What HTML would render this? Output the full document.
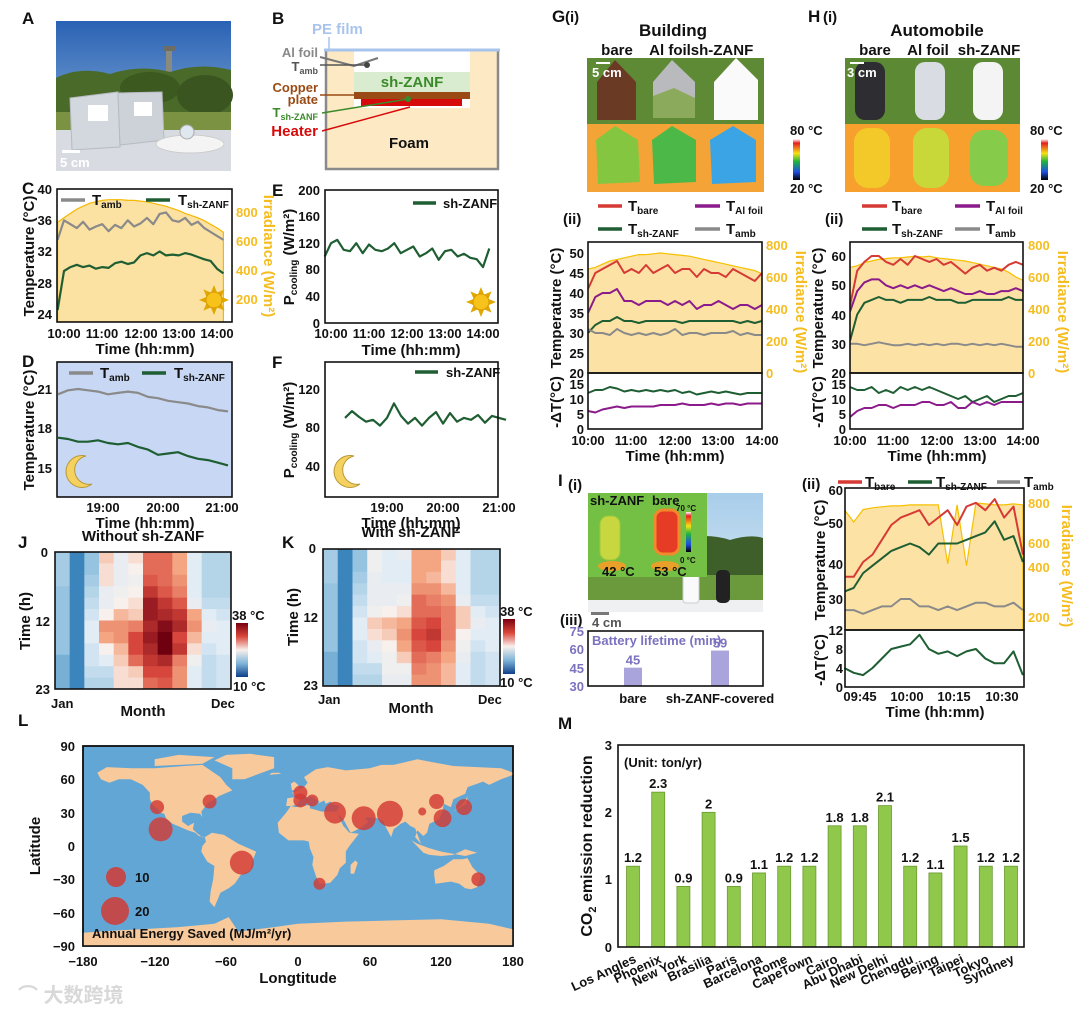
<!DOCTYPE html>
<html><head><meta charset="utf-8"><style>
html,body{margin:0;padding:0;background:#fff;width:1080px;height:1014px;overflow:hidden}
svg text{font-family:"Liberation Sans","Noto Sans CJK SC",sans-serif;font-weight:bold;fill:#111}
.tk{font-size:13px}
.tt{font-size:15px}
.lb{font-size:17px}
.or{fill:#f5bd1f}
.pu{fill:#7b72c0}
</style></head><body>
<svg id="fig" width="1080" height="1014" viewBox="0 0 1080 1014" xmlns="http://www.w3.org/2000/svg">
<defs>
<linearGradient id="sky" x1="0" y1="0" x2="0" y2="1"><stop offset="0" stop-color="#2a62b4"/><stop offset="1" stop-color="#9cc0e0"/></linearGradient>
<linearGradient id="cbar" x1="0" y1="0" x2="0" y2="1"><stop offset="0" stop-color="#fff"/><stop offset="0.1" stop-color="#e81e1e"/><stop offset="0.35" stop-color="#f5e214"/><stop offset="0.55" stop-color="#1eb43c"/><stop offset="0.8" stop-color="#1e50e6"/><stop offset="1" stop-color="#000"/></linearGradient>
<linearGradient id="hbar" x1="0" y1="0" x2="0" y2="1"><stop offset="0" stop-color="#7a0010"/><stop offset="0.25" stop-color="#d9473a"/><stop offset="0.5" stop-color="#f8f0ec"/><stop offset="0.75" stop-color="#7fb4d9"/><stop offset="1" stop-color="#0d3f8a"/></linearGradient>
<linearGradient id="isky" x1="0" y1="0" x2="0" y2="1"><stop offset="0" stop-color="#a8cdea"/><stop offset="1" stop-color="#d9e9f3"/></linearGradient>
</defs>

<g>
<text x="22" y="24" class="lb">A</text><text x="272" y="24" class="lb">B</text>
<text x="22" y="194" class="lb">C</text><text x="272" y="196" class="lb">E</text>
<text x="22" y="367" class="lb">D</text><text x="272" y="368" class="lb">F</text>
<text x="18" y="548" class="lb">J</text><text x="282" y="548" class="lb">K</text>
<text x="18" y="726" class="lb">L</text><text x="558" y="729" class="lb">M</text>
<text x="552" y="22" class="lb">G</text><text x="565" y="22" class="tt">(i)</text>
<text x="808" y="22" class="lb">H</text><text x="823" y="22" class="tt">(i)</text>
<text x="558" y="486" class="lb">I</text><text x="568" y="490" class="tt">(i)</text>
</g>

<g>
<rect x="56" y="21" width="175" height="150" fill="url(#sky)"/>
<rect x="166" y="48" width="6" height="26" fill="#8a8a80"/><rect x="163" y="46" width="12" height="5" fill="#6d6d66"/>
<path d="M56 78 Q80 66 110 74 Q140 64 170 72 Q200 62 231 70 L231 120 L56 120Z" fill="#4a6a2a"/>
<ellipse cx="150" cy="88" rx="30" ry="16" fill="#3c5a20"/><ellipse cx="205" cy="95" rx="28" ry="20" fill="#3a5520"/>
<rect x="56" y="112" width="175" height="20" fill="#7a9242"/>
<rect x="56" y="130" width="175" height="41" fill="#d8dce2"/>
<polygon points="70,98 118,92 120,147 72,150" fill="#d3d7de" stroke="#b6bac2"/>
<rect x="88" y="105" width="20" height="16" fill="#fff"/>
<polygon points="118,93 162,92 164,140 120,145" fill="#cdd1d8" stroke="#b6bac2"/>
<rect x="134" y="102" width="18" height="14" fill="#fff"/>
<ellipse cx="190" cy="144" rx="34" ry="9" fill="#f4f4f4" stroke="#ccc"/>
<circle cx="187" cy="132" r="7" fill="#dfe7ef" stroke="#aaa"/>
<rect x="62" y="150" width="18" height="3" fill="#fff"/>
<text x="60" y="167" class="tk" style="fill:#fff">5 cm</text>
</g>

<g>
<rect x="326" y="50" width="172" height="119" fill="#fde9c4" stroke="#8a8a8a" stroke-width="2.5"/>
<rect x="354" y="51" width="116" height="57" fill="#fff"/>
<rect x="354" y="72" width="116" height="20" fill="#d9ecd0"/>
<rect x="354" y="92" width="116" height="7" fill="#9a4a14"/>
<rect x="361" y="99" width="101" height="7" fill="#d60a0a"/>
<line x1="324" y1="50" x2="500" y2="50" stroke="#a9c4ec" stroke-width="3"/>
<line x1="329" y1="37" x2="329" y2="50" stroke="#a9c4ec" stroke-width="1.5"/>
<polyline points="320,57 354,66 378,58" fill="none" stroke="#777" stroke-width="2"/>
<line x1="320" y1="65" x2="367" y2="65" stroke="#555" stroke-width="1.5"/><circle cx="367" cy="65" r="3" fill="#444"/>
<line x1="320" y1="95" x2="354" y2="95" stroke="#9a4a14" stroke-width="1.5"/>
<line x1="322" y1="113" x2="408" y2="99" stroke="#3a8a2a" stroke-width="1.5"/><circle cx="408" cy="99" r="3" fill="#3a8a2a"/>
<line x1="322" y1="131" x2="410" y2="107" stroke="#d60a0a" stroke-width="1.5"/>
<text x="312" y="34" class="tt" style="fill:#a9c4ec">PE film</text>
<text x="318" y="57" class="tk" text-anchor="end" style="fill:#888">Al foil</text>
<text x="318" y="71" class="tk" text-anchor="end" style="fill:#555">T<tspan font-size="9" dy="3">amb</tspan></text>
<text x="318" y="92" class="tk" text-anchor="end" style="fill:#9a4a14">Copper</text>
<text x="318" y="104" class="tk" text-anchor="end" style="fill:#9a4a14">plate</text>
<text x="318" y="117" class="tk" text-anchor="end" style="fill:#3a8a2a">T<tspan font-size="9" dy="3">sh-ZANF</tspan></text>
<text x="318" y="136" class="tt" text-anchor="end" style="fill:#d60a0a">Heater</text>
<text x="412" y="87" class="tt" text-anchor="middle" style="fill:#3a8a2a">sh-ZANF</text>
<text x="409" y="148" class="tt" text-anchor="middle">Foam</text>
</g>

<g>
<text x="52" y="194" class="tk" text-anchor="end">40</text><text x="52" y="225" class="tk" text-anchor="end">36</text>
<text x="52" y="256" class="tk" text-anchor="end">32</text><text x="52" y="288" class="tk" text-anchor="end">28</text>
<text x="52" y="319" class="tk" text-anchor="end">24</text>
<text x="236" y="217" class="tk or">800</text><text x="236" y="246" class="tk or">600</text>
<text x="236" y="275" class="tk or">400</text><text x="236" y="304" class="tk or">200</text>
<text transform="translate(34,256) rotate(-90)" class="tt" text-anchor="middle">Temperature (°C)</text>
<text transform="translate(264,256) rotate(90)" class="tt or" text-anchor="middle">Irradiance (W/m²)</text>
<text x="64" y="338" class="tk" text-anchor="middle">10:00</text><text x="102" y="338" class="tk" text-anchor="middle">11:00</text>
<text x="141" y="338" class="tk" text-anchor="middle">12:00</text><text x="179" y="338" class="tk" text-anchor="middle">13:00</text>
<text x="217" y="338" class="tk" text-anchor="middle">14:00</text>
<text x="145" y="354" class="tt" text-anchor="middle">Time (hh:mm)</text>
</g>
<g id="gC"></g>
<g>
<line x1="61" y1="200" x2="85" y2="200" stroke="#8a8a8a" stroke-width="3.5"/><text x="92" y="205" class="tt">T<tspan font-size="10" dy="3">amb</tspan></text>
<line x1="146" y1="200" x2="170" y2="200" stroke="#1e5e32" stroke-width="3.5"/><text x="178" y="205" class="tt">T<tspan font-size="10" dy="3">sh-ZANF</tspan></text>
</g>

<g>
<text x="320" y="195" class="tk" text-anchor="end">200</text><text x="320" y="221" class="tk" text-anchor="end">160</text>
<text x="320" y="248" class="tk" text-anchor="end">120</text><text x="320" y="274" class="tk" text-anchor="end">80</text>
<text x="320" y="301" class="tk" text-anchor="end">40</text><text x="320" y="328" class="tk" text-anchor="end">0</text>
<text transform="translate(294,257) rotate(-90)" class="tt" text-anchor="middle">P<tspan font-size="10" dy="3">cooling</tspan><tspan dy="-3"> (W/m²)</tspan></text>
<text x="331" y="338" class="tk" text-anchor="middle">10:00</text><text x="369" y="338" class="tk" text-anchor="middle">11:00</text>
<text x="407" y="338" class="tk" text-anchor="middle">12:00</text><text x="445" y="338" class="tk" text-anchor="middle">13:00</text>
<text x="483" y="338" class="tk" text-anchor="middle">14:00</text>
<text x="411" y="355" class="tt" text-anchor="middle">Time (hh:mm)</text>
<line x1="413" y1="203" x2="436" y2="203" stroke="#1e5e32" stroke-width="3.5"/><text x="443" y="208" class="tk">sh-ZANF</text>
</g>
<g id="gE"></g>

<g id="gD"></g>
<g>
<text x="52" y="394" class="tk" text-anchor="end">21</text><text x="52" y="433" class="tk" text-anchor="end">18</text>
<text x="52" y="473" class="tk" text-anchor="end">15</text>
<text transform="translate(34,430) rotate(-90)" class="tt" text-anchor="middle">Temperature (°C)</text>
<text x="103" y="512" class="tk" text-anchor="middle">19:00</text><text x="163" y="512" class="tk" text-anchor="middle">20:00</text>
<text x="222" y="512" class="tk" text-anchor="middle">21:00</text>
<text x="145" y="528" class="tt" text-anchor="middle">Time (hh:mm)</text>
<line x1="69" y1="373" x2="93" y2="373" stroke="#8a8a8a" stroke-width="3.5"/><text x="100" y="378" class="tt">T<tspan font-size="10" dy="3">amb</tspan></text>
<line x1="142" y1="373" x2="166" y2="373" stroke="#1e5e32" stroke-width="3.5"/><text x="174" y="378" class="tt">T<tspan font-size="10" dy="3">sh-ZANF</tspan></text>
</g>

<g id="gF"></g>
<g>
<text x="320" y="394" class="tk" text-anchor="end">120</text><text x="320" y="432" class="tk" text-anchor="end">80</text>
<text x="320" y="471" class="tk" text-anchor="end">40</text>
<text transform="translate(294,430) rotate(-90)" class="tt" text-anchor="middle">P<tspan font-size="10" dy="3">cooling</tspan><tspan dy="-3"> (W/m²)</tspan></text>
<text x="387" y="512" class="tk" text-anchor="middle">19:00</text><text x="443" y="512" class="tk" text-anchor="middle">20:00</text>
<text x="499" y="512" class="tk" text-anchor="middle">21:00</text>
<text x="411" y="528" class="tt" text-anchor="middle">Time (hh:mm)</text>
<line x1="415" y1="372" x2="438" y2="372" stroke="#1e5e32" stroke-width="3.5"/><text x="446" y="377" class="tk">sh-ZANF</text>
</g>

<g>
<text x="673" y="36" class="lb" text-anchor="middle">Building</text>
<text x="617" y="55" class="tt" text-anchor="middle">bare</text><text x="670" y="55" class="tt" text-anchor="middle">Al foil</text><text x="722" y="55" class="tt" text-anchor="middle">sh-ZANF</text>
<rect x="587" y="58" width="177" height="66" fill="#5e8a36"/>
<polygon points="597,82 615,60 636,82 636,120 597,120" fill="#6a3a24"/>
<polygon points="653,82 672,60 695,82 695,118 653,118" fill="#b8babe"/><polygon points="653,96 674,88 695,98 695,118 653,118" fill="#8caa5c"/>
<polygon points="714,82 736,58 758,80 758,120 714,120" fill="#fafafa"/>
<rect x="596" y="62" width="14" height="2" fill="#fff"/><text x="592" y="77" class="tk" style="fill:#fff">5 cm</text>
<rect x="587" y="124" width="177" height="68" fill="#f4a436"/>
<polygon points="596,140 615,126 638,140 640,182 598,184" fill="#84c640"/>
<polygon points="652,140 672,126 696,140 696,182 654,184" fill="#4cb848"/>
<polygon points="710,140 733,126 756,140 756,182 712,184" fill="#3aa4e4"/>
<rect x="793" y="139" width="7" height="41" fill="url(#cbar)"/>
<text x="790" y="135" class="tk">80 °C</text><text x="790" y="193" class="tk">20 °C</text>
</g>

<g>
<text x="937" y="36" class="lb" text-anchor="middle">Automobile</text>
<text x="875" y="55" class="tt" text-anchor="middle">bare</text><text x="928" y="55" class="tt" text-anchor="middle">Al foil</text><text x="989" y="55" class="tt" text-anchor="middle">sh-ZANF</text>
<rect x="845" y="58" width="175" height="66" fill="#5c8a34"/>
<rect x="855" y="62" width="30" height="58" rx="10" fill="#2e2e32"/>
<rect x="915" y="62" width="30" height="58" rx="10" fill="#d9dce2"/>
<rect x="973" y="62" width="30" height="58" rx="10" fill="#f4f4f4"/>
<rect x="850" y="62" width="14" height="2" fill="#fff"/><text x="847" y="77" class="tk" style="fill:#fff">3 cm</text>
<rect x="845" y="124" width="175" height="68" fill="#f7a02e"/>
<rect x="854" y="128" width="36" height="60" rx="14" fill="#f2c928"/>
<rect x="913" y="128" width="36" height="60" rx="14" fill="#c8d838"/>
<rect x="970" y="130" width="38" height="56" rx="14" fill="#86cc4a"/>
<rect x="1041" y="139" width="7" height="41" fill="url(#cbar)"/>
<text x="1030" y="135" class="tk">80 °C</text><text x="1030" y="193" class="tk">20 °C</text>
</g>

<g>
<text x="563" y="224" class="tt">(ii)</text>
<line x1="598" y1="206" x2="622" y2="206" stroke="#d63a34" stroke-width="3.5"/><text x="628" y="211" class="tt">T<tspan font-size="10" dy="3">bare</tspan></text>
<line x1="695" y1="206" x2="720" y2="206" stroke="#8b1a8b" stroke-width="3.5"/><text x="726" y="211" class="tt">T<tspan font-size="10" dy="3">Al foil</tspan></text>
<line x1="598" y1="229" x2="622" y2="229" stroke="#1e5e32" stroke-width="3.5"/><text x="628" y="234" class="tt">T<tspan font-size="10" dy="3">sh-ZANF</tspan></text>
<line x1="695" y1="229" x2="720" y2="229" stroke="#8a8a8a" stroke-width="3.5"/><text x="726" y="234" class="tt">T<tspan font-size="10" dy="3">amb</tspan></text>
<text x="584" y="258" class="tk" text-anchor="end">50</text><text x="584" y="278" class="tk" text-anchor="end">45</text>
<text x="584" y="298" class="tk" text-anchor="end">40</text><text x="584" y="318" class="tk" text-anchor="end">35</text>
<text x="584" y="338" class="tk" text-anchor="end">30</text><text x="584" y="358" class="tk" text-anchor="end">25</text>
<text x="584" y="378" class="tk" text-anchor="end">20</text>
<text x="584" y="389" class="tk" text-anchor="end">15</text><text x="584" y="404" class="tk" text-anchor="end">10</text>
<text x="584" y="419" class="tk" text-anchor="end">5</text><text x="584" y="434" class="tk" text-anchor="end">0</text>
<text x="766" y="250" class="tk or">800</text><text x="766" y="282" class="tk or">600</text>
<text x="766" y="314" class="tk or">400</text><text x="766" y="346" class="tk or">200</text><text x="766" y="378" class="tk or">0</text>
<text transform="translate(561,308) rotate(-90)" class="tt" text-anchor="middle">Temperature (°C)</text>
<text transform="translate(561,402) rotate(-90)" class="tt" text-anchor="middle">-ΔT(°C)</text>
<text transform="translate(796,312) rotate(90)" class="tt or" text-anchor="middle">Irradiance (W/m²)</text>
<text x="588" y="445" class="tk" text-anchor="middle">10:00</text><text x="631" y="445" class="tk" text-anchor="middle">11:00</text>
<text x="675" y="445" class="tk" text-anchor="middle">12:00</text><text x="718" y="445" class="tk" text-anchor="middle">13:00</text>
<text x="762" y="445" class="tk" text-anchor="middle">14:00</text>
<text x="675" y="461" class="tt" text-anchor="middle">Time (hh:mm)</text>
</g>
<g id="gG"></g>

<g>
<text x="825" y="224" class="tt">(ii)</text>
<line x1="862" y1="206" x2="887" y2="206" stroke="#d63a34" stroke-width="3.5"/><text x="892" y="211" class="tt">T<tspan font-size="10" dy="3">bare</tspan></text>
<line x1="955" y1="206" x2="980" y2="206" stroke="#8b1a8b" stroke-width="3.5"/><text x="986" y="211" class="tt">T<tspan font-size="10" dy="3">Al foil</tspan></text>
<line x1="862" y1="229" x2="887" y2="229" stroke="#1e5e32" stroke-width="3.5"/><text x="892" y="234" class="tt">T<tspan font-size="10" dy="3">sh-ZANF</tspan></text>
<line x1="955" y1="229" x2="980" y2="229" stroke="#8a8a8a" stroke-width="3.5"/><text x="986" y="234" class="tt">T<tspan font-size="10" dy="3">amb</tspan></text>
<text x="846" y="261" class="tk" text-anchor="end">60</text><text x="846" y="290" class="tk" text-anchor="end">50</text>
<text x="846" y="320" class="tk" text-anchor="end">40</text><text x="846" y="349" class="tk" text-anchor="end">30</text>
<text x="846" y="378" class="tk" text-anchor="end">20</text>
<text x="846" y="389" class="tk" text-anchor="end">15</text><text x="846" y="404" class="tk" text-anchor="end">10</text>
<text x="846" y="419" class="tk" text-anchor="end">5</text><text x="846" y="434" class="tk" text-anchor="end">0</text>
<text x="1028" y="250" class="tk or">800</text><text x="1028" y="282" class="tk or">600</text>
<text x="1028" y="314" class="tk or">400</text><text x="1028" y="346" class="tk or">200</text><text x="1028" y="378" class="tk or">0</text>
<text transform="translate(823,308) rotate(-90)" class="tt" text-anchor="middle">Temperature (°C)</text>
<text transform="translate(823,402) rotate(-90)" class="tt" text-anchor="middle">-ΔT(°C)</text>
<text transform="translate(1058,312) rotate(90)" class="tt or" text-anchor="middle">Irradiance (W/m²)</text>
<text x="850" y="445" class="tk" text-anchor="middle">10:00</text><text x="893" y="445" class="tk" text-anchor="middle">11:00</text>
<text x="937" y="445" class="tk" text-anchor="middle">12:00</text><text x="980" y="445" class="tk" text-anchor="middle">13:00</text>
<text x="1023" y="445" class="tk" text-anchor="middle">14:00</text>
<text x="937" y="461" class="tt" text-anchor="middle">Time (hh:mm)</text>
</g>
<g id="gH"></g>

<g>
<rect x="588" y="493" width="175" height="119" fill="url(#isky)"/>
<path d="M588 548 Q620 535 660 545 Q700 530 730 540 Q750 534 763 538 L763 580 L588 580Z" fill="#3e5e2a"/>
<rect x="588" y="575" width="175" height="28" fill="#6a9a3c"/>
<rect x="588" y="600" width="175" height="12" fill="#eef0f2"/>
<rect x="683" y="573" width="16" height="30" rx="3" fill="#fafafa" stroke="#ccc"/>
<rect x="716" y="570" width="14" height="33" rx="5" fill="#222"/>
<rect x="588" y="493" width="119" height="84" fill="#74c044"/>
<rect x="600" y="516" width="20" height="44" rx="8" fill="#c8d640" stroke="#9ac93c"/>
<rect x="655" y="510" width="24" height="44" rx="8" fill="#e63c26" stroke="#f08a2a" stroke-width="3"/>
<ellipse cx="612" cy="566" rx="14" ry="5" fill="#e8a02a"/><ellipse cx="665" cy="566" rx="14" ry="5" fill="#e8a02a"/>
<rect x="686" y="512" width="5" height="40" fill="url(#cbar)"/>
<text x="590" y="505" class="tk">sh-ZANF</text><text x="652" y="505" class="tk">bare</text>
<text x="676" y="511" font-size="8" font-weight="bold">70 °C</text><text x="680" y="563" font-size="8" font-weight="bold">0 °C</text>
<text x="602" y="576" class="tk">42 °C</text><text x="654" y="576" class="tk">53 °C</text>
<rect x="591" y="612" width="18" height="3" fill="#777"/><text x="592" y="627" class="tk" style="fill:#555">4 cm</text>
</g>

<g>
<text x="560" y="625" class="tt">(iii)</text>
<text x="584" y="636" class="tk pu" text-anchor="end">75</text><text x="584" y="654" class="tk pu" text-anchor="end">60</text>
<text x="584" y="673" class="tk pu" text-anchor="end">45</text><text x="584" y="691" class="tk pu" text-anchor="end">30</text>
<text x="592" y="645" class="tk pu">Battery lifetime (min)</text>
<text x="633" y="703" class="tk" text-anchor="middle">bare</text><text x="720" y="703" class="tk" text-anchor="middle">sh-ZANF-covered</text>
</g>
<g id="gI3"></g>

<g>
<text x="802" y="489" class="tt">(ii)</text>
<line x1="838" y1="482" x2="862" y2="482" stroke="#d63a34" stroke-width="3.5"/><text x="865" y="487" class="tt">T<tspan font-size="10" dy="3">bare</tspan></text>
<line x1="908" y1="482" x2="932" y2="482" stroke="#1e5e32" stroke-width="3.5"/><text x="936" y="487" class="tt">T<tspan font-size="10" dy="3">sh-ZANF</tspan></text>
<line x1="997" y1="482" x2="1020" y2="482" stroke="#8a8a8a" stroke-width="3.5"/><text x="1024" y="487" class="tt">T<tspan font-size="10" dy="3">amb</tspan></text>
<text x="843" y="495" class="tk" text-anchor="end">60</text><text x="843" y="528" class="tk" text-anchor="end">50</text>
<text x="843" y="569" class="tk" text-anchor="end">40</text><text x="843" y="604" class="tk" text-anchor="end">30</text>
<text x="843" y="635" class="tk" text-anchor="end">12</text><text x="843" y="654" class="tk" text-anchor="end">8</text>
<text x="843" y="673" class="tk" text-anchor="end">4</text><text x="843" y="692" class="tk" text-anchor="end">0</text>
<text x="1028" y="508" class="tk or">800</text><text x="1028" y="548" class="tk or">600</text>
<text x="1028" y="572" class="tk or">400</text><text x="1028" y="622" class="tk or">200</text>
<text transform="translate(825,560) rotate(-90)" class="tt" text-anchor="middle">Temperature (°C)</text>
<text transform="translate(825,660) rotate(-90)" class="tt" text-anchor="middle">-ΔT(°C)</text>
<text transform="translate(1062,566) rotate(90)" class="tt or" text-anchor="middle">Irradiance (W/m²)</text>
<text x="860" y="701" class="tk" text-anchor="middle">09:45</text><text x="907" y="701" class="tk" text-anchor="middle">10:00</text>
<text x="954" y="701" class="tk" text-anchor="middle">10:15</text><text x="1002" y="701" class="tk" text-anchor="middle">10:30</text>
<text x="935" y="717" class="tt" text-anchor="middle">Time (hh:mm)</text>
</g>
<g id="gI2"></g>

<g id="gJ"></g>
<g id="gK"></g>
<g>
<text x="143" y="541" class="tt" text-anchor="middle">Without sh-ZANF</text>
<text x="48" y="557" class="tk" text-anchor="end">0</text><text x="50" y="626" class="tk" text-anchor="end">12</text><text x="50" y="694" class="tk" text-anchor="end">23</text>
<text transform="translate(30,621) rotate(-90)" class="tt" text-anchor="middle">Time (h)</text>
<text x="51" y="708" class="tk">Jan</text><text x="211" y="708" class="tk">Dec</text><text x="143" y="716" class="tt" text-anchor="middle">Month</text>
<rect x="236" y="623" width="12" height="54" fill="url(#hbar)"/>
<text x="232" y="620" class="tk">38 °C</text><text x="233" y="691" class="tk">10 °C</text>
<text x="411" y="537" class="tt" text-anchor="middle">With sh-ZANF</text>
<text x="316" y="553" class="tk" text-anchor="end">0</text><text x="318" y="622" class="tk" text-anchor="end">12</text><text x="318" y="690" class="tk" text-anchor="end">23</text>
<text transform="translate(298,617) rotate(-90)" class="tt" text-anchor="middle">Time (h)</text>
<text x="318" y="704" class="tk">Jan</text><text x="478" y="704" class="tk">Dec</text><text x="411" y="713" class="tt" text-anchor="middle">Month</text>
<rect x="503" y="619" width="12" height="55" fill="url(#hbar)"/>
<text x="500" y="616" class="tk">38 °C</text><text x="500" y="687" class="tk">10 °C</text>
</g>

<g id="gL"></g>
<g>
<text x="75" y="751" class="tk" text-anchor="end">90</text><text x="75" y="784" class="tk" text-anchor="end">60</text>
<text x="75" y="818" class="tk" text-anchor="end">30</text><text x="75" y="851" class="tk" text-anchor="end">0</text>
<text x="75" y="884" class="tk" text-anchor="end">−30</text><text x="75" y="918" class="tk" text-anchor="end">−60</text>
<text x="75" y="951" class="tk" text-anchor="end">−90</text>
<text transform="translate(40,846) rotate(-90)" class="tt" text-anchor="middle">Latitude</text>
<text x="83" y="966" class="tk" text-anchor="middle">−180</text><text x="155" y="966" class="tk" text-anchor="middle">−120</text>
<text x="226" y="966" class="tk" text-anchor="middle">−60</text><text x="298" y="966" class="tk" text-anchor="middle">0</text>
<text x="370" y="966" class="tk" text-anchor="middle">60</text><text x="441" y="966" class="tk" text-anchor="middle">120</text>
<text x="513" y="966" class="tk" text-anchor="middle">180</text>
<text x="298" y="983" class="tt" text-anchor="middle">Longtitude</text>
<circle cx="116" cy="877" r="10" fill="#d23a34" fill-opacity="0.85"/><text x="135" y="882" class="tk">10</text>
<circle cx="115" cy="911" r="14" fill="#d23a34" fill-opacity="0.85"/><text x="135" y="916" class="tk">20</text>
<text x="92" y="938" class="tk">Annual Energy Saved (MJ/m²/yr)</text>
</g>

<g>
<text x="612" y="750" class="tk" text-anchor="end">3</text><text x="612" y="817" class="tk" text-anchor="end">2</text>
<text x="612" y="884" class="tk" text-anchor="end">1</text><text x="612" y="952" class="tk" text-anchor="end">0</text>
<text transform="translate(592,846) rotate(-90)" class="tt" text-anchor="middle" style="font-size:16px">CO<tspan font-size="11" dy="4">2</tspan><tspan dy="-4"> emission reduction</tspan></text>
<text x="624" y="767" class="tk">(Unit: ton/yr)</text>
</g>
<g id="gM"></g>

<text x="18" y="1002" font-size="20" style="fill:#d8d8d8">⌒ 大数跨境</text>
</svg>

<script>
const cTamb = [33.5,36,35.5,35,35.8,34.8,35.2,35.5,34.6,35.4,35,36,35.2,35.6,36.3,35.5,36.8,37,36,35.8,36.3,35.4,35.8,35,34.5,34,33.5];
const cTzanf = [24.5,29.5,30,30.3,30,30.2,29.8,30,29.9,30.5,30.7,30.4,30.6,31.5,31.8,31.5,32,31.5,31.6,31.5,31.8,31.6,31.3,31,30.8,29.8,29.2];
const cIrr = [730,760,790,820,840,860,870,880,885,885,885,880,880,875,870,860,850,840,825,810,790,775,760,740,715,690,660];
const ePcool = [100,120,125,110,108,120,105,118,110,108,112,120,105,110,115,100,105,112,95,108,110,100,104,98,96,84,112];
const dTamb = [20.6,20.9,21.0,20.9,20.8,20.6,20.7,20.8,20.7,20.4,20.3,20.1,20.0,19.9,19.7,19.6,19.4,19.3];
const dTzanf = [17.3,17.2,17.0,17.0,17.1,16.9,16.8,16.9,16.6,16.4,16.0,16.1,16.2,15.9,15.7,15.6,15.4,15.2];
const fPcool = [90,97,91,86,88,82,90,105,92,84,90,82,90,96,84,95,86,90,88,93,85,92,90,88];
const gTbare = [41,45,46,47,48,45,46,45,47,45,46,47,45,46,46,44,46,45,45,44,46,45,44,43,45];
const gTal = [35,39,40,40,41,38,38,37,38,38,38,37,38,37,38,36,37,37,38,37,36,37,37,36,37];
const gTzanf = [30,32,33,33,34,33,33,32.5,33,33,33,33,33,32.5,33,33,33,33,33,33,33,32.5,33,32.5,33];
const gTamb = [31,30,30,29.5,31,30,29.5,30,29.5,30,29.5,30,31,29.5,30,30,29.5,30,30,30,30.5,29.5,30,29.5,29.5];
const gIrr = [650,660,680,700,710,720,730,740,740,745,750,745,740,735,730,720,710,700,690,680,670,660,650,640,620];
const gDzanf = [12,13,13,14,13.5,12.5,13,12.5,13,12.5,13,12.5,13,12,12.5,11.5,12,12.5,12,12.5,12,11.5,12,12,12];
const gDal = [6,5.5,6.5,7,7.5,7,7.5,7.5,7.5,7.5,8,8,8,8.5,8,8,8,8.5,8,8.5,8.5,8,8.5,8.5,8.5];
const hTbare = [43,55,58,60,60,58,57,59,57,60,59,58,59,57,58,56,54,56,57,55,56,55,57,58,57];
const hTal = [41,48,51,52,52,50,49,50,49,50,49,50,49,48,49,48,47,47,48,47,47,48,48,49,48];
const hTzanf = [31,40,44,45,46,45,45,44,45,45,45,46,45,45,45,44,44,45,45,45,45,45,46,45,45];
const hTamb = [30,30,29.5,30,30.5,30,29.5,29.5,30,29.5,30,29.5,30,29.5,30,30,29.5,30,29.5,30,29.5,30,29.5,29,29];
const hIrr = [660,670,690,700,710,715,720,720,725,730,725,730,720,715,710,705,700,690,680,670,660,650,630,600,580];
const hDzanf = [14,13,13,14,12,13,12,14,13,14,13,14,13,12,11,10,11,9,10,11,9,10,11,11,12];
const hDal = [4,6,7,7,8,8,7,8,8,8,9,9,8,8,9,7,7,9,8,9,8,9,9,9,9];
const iTbare = [36,36,40,42,46,50,52,53,54,50,52,54,50,55,56,54,57,52,55,42];
const iTzanf = [32,33,37,39,41,43,44,45,44,42,45,45,45,46,47,48,51,46,47,40];
const iTamb = [27,27,26,27,28,28,30,30,28,28,27,28,27,28,29,29,28,28,29,27];
const iIrr = [765,700,765,775,780,785,785,790,790,790,790,480,790,470,800,795,790,790,795,790];
const iDT = [4,3,2.5,4,6,8,8.5,9,11,8,7,7.5,6.5,7.5,8,6,5,5,7.5,2.5];
const batteryLabels = ['bare','sh-ZANF-covered'];
const batteryValues = [45,59];
const heatJ = [
[17,13,16,26,22,25,31,31,28,21,18,18],[17,13,16,25,22,24,31,31,28,21,18,18],
[17,13,17,25,22,23,32,31,29,21,18,18],[16,13,18,22,23,24,34,32,30,21,18,18],
[16,13,19,22,24,25,36,34,32,22,19,19],[16,13,20,24,27,26,36,35,34,28,21,20],
[16,13,21,29,29,30,35,37,35,29,22,21],[16,13,21,28,29,33,36,38,33,27,21,21],
[16,13,20,24,27,33,35,38,34,25,20,21],[15,13,20,21,26,31,34,35,30,23,19,20],
[15,13,19,19,25,26,33,33,29,21,19,20],[15,13,18,18,25,25,31,32,29,21,19,20]];
const heatK = [
[17,13,16,23,21,22,28,28,26,21,18,18],[17,13,16,23,21,21,28,28,25,21,18,18],
[17,13,17,22,21,21,28,27,25,21,18,18],[16,13,18,22,22,22,29,29,27,21,18,18],
[16,13,19,22,22,23,31,30,29,22,19,19],[16,13,20,23,24,25,31,31,30,26,21,20],
[16,13,21,26,27,28,32,33,30,26,22,21],[16,13,21,25,26,29,33,34,30,24,21,21],
[16,13,20,22,24,28,32,33,29,23,20,21],[15,13,20,21,23,26,31,30,28,22,19,20],
[15,13,19,19,23,23,30,29,27,21,19,20],[15,13,18,18,22,22,29,29,27,21,19,20]];
const cityLon = [-118,-115,-74,2,2,12,31,55,77,104,116,121,139,151,-47,18];
const cityLat = [35,15,40,48,41,41,30,25,29,31,40,25,35,-30,-15,-34];
const citySaved = [4.9,14.4,4.9,4.9,4.9,3.6,12,14.4,17,1.6,5.6,8,6.4,4.9,14.4,3.6];
const mCities = ['Los Angles','Phoenix','New York','Brasilia','Paris','Barcelona','Rome','CapeTown','Cairo','Abu Dhabi','New Delhi','Chengdu','Bejing','Taipei','Tokyo','Syndney'];
const mValues = [1.2,2.3,0.9,2,0.9,1.1,1.2,1.2,1.8,1.8,2.1,1.2,1.1,1.5,1.2,1.2];

const NS = 'http://www.w3.org/2000/svg';
function mk(tag, parent){ const e=document.createElementNS(NS,tag); parent.appendChild(e); return e; }
function lin(d0,d1,r0,r1){ return v => r0+(v-d0)*(r1-r0)/(d1-d0); }
function pathD(vals, sx, sy, t0, step){ return vals.map((v,i)=>(i?'L':'M')+sx(t0+i*step).toFixed(1)+' '+sy(v).toFixed(1)).join(''); }
function line(parent, vals, sx, sy, t0, step, color, w, name){
  const p=mk('path',parent);
  p.setAttribute('d',pathD(vals,sx,sy,t0,step));
  p.setAttribute('fill','none'); p.setAttribute('stroke',color); p.setAttribute('stroke-width',w);
  p.setAttribute('stroke-linejoin','round');
  
  
  return p;
}
function area(parent, vals, sx, sy, t0, step, base, fill, stroke, name){
  const n=vals.length;
  const d=pathD(vals,sx,sy,t0,step)+'L'+sx(t0+(n-1)*step).toFixed(1)+' '+base+'L'+sx(t0).toFixed(1)+' '+base+'Z';
  const p=mk('path',parent);
  p.setAttribute('d',d); p.setAttribute('fill',fill); p.setAttribute('stroke',stroke); p.setAttribute('stroke-width','1.2');
  
  
}
function frame(parent,x,y,w,h,fill,name){
  const r=mk('rect',parent);
  r.setAttribute('x',x); r.setAttribute('y',y); r.setAttribute('width',w); r.setAttribute('height',h);
  r.setAttribute('fill',fill||'none'); r.setAttribute('stroke','#111'); r.setAttribute('stroke-width','1.6');
  
  
  return r;
}
function clip(id,x,y,w,h){
  const defs=document.querySelector('defs');
  const c=mk('clipPath',defs); c.setAttribute('id',id);
  const r=mk('rect',c); r.setAttribute('x',x); r.setAttribute('y',y); r.setAttribute('width',w); r.setAttribute('height',h);
}
function sun(parent,cx,cy){
  const g=mk('g',parent);
  
  
  let pts=[]; for(let i=0;i<16;i++){const r=i%2?8:15; const a=i*Math.PI/8; pts.push((cx+r*Math.cos(a)).toFixed(1)+','+(cy+r*Math.sin(a)).toFixed(1));}
  const s=mk('polygon',g); s.setAttribute('points',pts.join(' ')); s.setAttribute('fill','#e0a800');
  const c=mk('circle',g); c.setAttribute('cx',cx); c.setAttribute('cy',cy); c.setAttribute('r',8); c.setAttribute('fill','#f7c31a'); c.setAttribute('stroke','#d99a00');
}
function moon(parent,cx,cy){
  const p=mk('path',parent);
  p.setAttribute('d',`M${cx+6} ${cy-16} A16 16 0 1 0 ${cx+12} ${cy+12} A13 13 0 1 1 ${cx+6} ${cy-16}Z`);
  p.setAttribute('fill','#f5d160'); p.setAttribute('stroke','#b89a3a');
  
  
}

(function(){
  const g=document.getElementById('gC');
  clip('clC',57,189,175,133);
  const gi=mk('g',g); gi.setAttribute('clip-path','url(#clC)');
  const sx=lin(10,14,64,217), sy=lin(24,40,314,189), sI=lin(200,800,299,212);
  const t0=9+50/60, st=10/60;
  area(gi,cIrr,sx,sI,t0,st,322,'#fbe1a2','#f5b800','c-irradiance-area');
  line(gi,cTamb,sx,sy,t0,st,'#8a8a8a',2.2,'c-tamb-line');
  line(gi,cTzanf,sx,sy,t0,st,'#1e5e32',2.2,'c-tshzanf-line');
  sun(g,214,300);
  frame(g,57,189,175,133,null,'c-plot-frame');
})();
(function(){
  const g=document.getElementById('gE');
  const sx=lin(10,14,331,483), sy=lin(0,200,323,190);
  line(g,ePcool,sx,sy,9+50/60,10/60,'#1e5e32',2.2,'e-pcooling-line');
  sun(g,481,302);
  frame(g,325,190,173,133,null,'e-plot-frame');
})();
(function(){
  const g=document.getElementById('gD');
  frame(g,57,362,175,135,'#c8d8f4','d-plot-frame');
  const sx=lin(19,20,103,163), sy=lin(15,21,468,389);
  line(g,dTamb,sx,sy,18+15/60,10/60,'#8a8a8a',2.2,'d-tamb-line');
  line(g,dTzanf,sx,sy,18+15/60,10/60,'#1e5e32',2.2,'d-tshzanf-line');
  moon(g,80,472);
})();
(function(){
  const g=document.getElementById('gF');
  const sx=lin(19,21,387,499), sy=lin(40,120,466,389);
  line(g,fPcool,sx,sy,18+15/60,7.5/60,'#1e5e32',2.2,'f-pcooling-line');
  moon(g,348,472);
  frame(g,325,362,173,135,null,'f-plot-frame');
})();
function dualPanel(id,x0,x1,tMin,tMax,irr,series,dser,pre){
  const g=document.getElementById(id);
  const sx=lin(10,14,x0,x1);
  const sy=lin(20,tMax,373,tMin);
  const sI=lin(0,800,373,245);
  const sD=lin(0,15,429,384);
  clip(pre+'clip',x0,242,x1-x0,131);
  const gi=mk('g',g); gi.setAttribute('clip-path','url(#'+pre+'clip)');
  area(gi,irr,sx,sI,10,1/6,373,'#fde2a5','#f5c000',pre+'-irradiance-area');
  series.forEach(s=>line(gi,s[0],sx,sy,10,1/6,s[1],2,pre+'-'+s[2]+'-line'));
  dser.forEach(s=>line(g,s[0],sx,sD,10,1/6,s[1],2,pre+'-'+s[2]+'-line'));
  frame(g,x0,242,x1-x0,131,null,pre+'-upper-frame');
  frame(g,x0,373,x1-x0,56,null,pre+'-lower-frame');
}
dualPanel('gG',588,762,242,52.75,gIrr,[[gTbare,'#d63a34','tbare'],[gTal,'#8b1a8b','talfoil'],[gTzanf,'#1e5e32','tshzanf'],[gTamb,'#8a8a8a','tamb']],[[gDzanf,'#1e5e32','dt-shzanf'],[gDal,'#8b1a8b','dt-alfoil']],'g');
dualPanel('gH',850,1023,242,64.8,hIrr,[[hTbare,'#d63a34','tbare'],[hTal,'#8b1a8b','talfoil'],[hTzanf,'#1e5e32','tshzanf'],[hTamb,'#8a8a8a','tamb']],[[hDzanf,'#1e5e32','dt-shzanf'],[hDal,'#8b1a8b','dt-alfoil']],'h');
(function(){
  const g=document.getElementById('gI2');
  const sx=lin(0,15,860,907);
  const sy=lin(30,60,599,488), sI=lin(200,800,617,503), sD=lin(0,12,687,630);
  clip('clI2',845,488,179,142);
  const gi=mk('g',g); gi.setAttribute('clip-path','url(#clI2)');
  area(gi,iIrr,sx,sI,-5,3,630,'#fde2a5','#f5c000','i2-irradiance-area');
  line(gi,iTamb,sx,sy,-5,3,'#8a8a8a',2,'i2-tamb-line');
  line(gi,iTzanf,sx,sy,-5,3,'#1e5e32',2,'i2-tshzanf-line');
  line(gi,iTbare,sx,sy,-5,3,'#d63a34',2,'i2-tbare-line');
  line(g,iDT,sx,sD,-5,3,'#1e5e32',2,'i2-dt-line');
  frame(g,845,488,179,142,null,'i2-upper-frame');
  frame(g,845,630,179,57,null,'i2-lower-frame');
})();
(function(){
  const g=document.getElementById('gI3');
  const sy=lin(30,75,686,631);
  const xc=[633,720];
  batteryValues.forEach((v,i)=>{
    const r=mk('rect',g);
    r.setAttribute('x',xc[i]-9); r.setAttribute('y',sy(v)); r.setAttribute('width',18); r.setAttribute('height',686-sy(v)); r.setAttribute('fill','#a9a5dc');
    
    
    const t=mk('text',g); t.setAttribute('x',xc[i]); t.setAttribute('y',sy(v)-3); t.setAttribute('text-anchor','middle'); t.setAttribute('class','tk pu'); t.textContent=v;
    
    
  });
  frame(g,588,631,175,55,null,'i3-plot-frame');
})();
const hStops=[[10,[8,48,107]],[12.5,[44,123,182]],[16,[150,196,224]],[21,[225,236,245]],[24,[248,240,236]],[28,[244,165,130]],[33,[214,70,60]],[38,[110,0,16]]];
function hcol(v){
  for(let i=0;i<hStops.length-1;i++){const a=hStops[i],b=hStops[i+1]; if(v<=b[0]){const f=Math.max(0,(v-a[0])/(b[0]-a[0])); return 'rgb('+a[1].map((c,k)=>Math.round(c+(b[1][k]-c)*f)).join(',')+')';}}
  return 'rgb(110,0,16)';
}
function heat(id,mat,x,y,w,h,pre){
  const g=document.getElementById(id);
  const cw=w/12, ch=h/mat.length;
  mat.forEach((row,r)=>row.forEach((v,c)=>{
    const e=mk('rect',g);
    e.setAttribute('x',(x+c*cw).toFixed(2)); e.setAttribute('y',(y+r*ch).toFixed(2)); e.setAttribute('width',(cw+0.4).toFixed(2)); e.setAttribute('height',(ch+0.4).toFixed(2)); e.setAttribute('fill',hcol(v));
    
    
  }));
  frame(g,x,y,w,h,null,pre+'-frame');
}
heat('gJ',heatJ,55,552,176,137,'j-heatmap');
heat('gK',heatK,323,549,177,137,'k-heatmap');
(function(){
  const g=document.getElementById('gL');
  const sx=lin(-180,180,83,513), sy=lin(-90,90,946,746);
  clip('clL',83,746,430,200);
  frame(g,83,746,430,200,'#62a6d6','l-map-frame');
  const gi=mk('g',g); gi.setAttribute('clip-path','url(#clL)');
  const lands=[
   [[-168,66],[-160,71],[-140,70],[-120,70],[-95,72],[-80,73],[-65,62],[-60,55],[-55,50],[-66,45],[-70,42],[-76,38],[-81,31],[-80,26],[-82,29],[-90,30],[-97,27],[-97,22],[-92,18],[-87,21],[-88,15],[-84,11],[-80,8],[-78,8],[-83,9],[-86,12],[-92,14],[-105,20],[-110,24],[-112,29],[-115,30],[-117,33],[-121,36],[-124,42],[-124,48],[-130,55],[-140,60],[-150,60],[-158,57],[-165,60]],
   [[-55,60],[-45,60],[-20,70],[-20,80],[-40,83],[-60,82],[-70,77],[-55,70]],
   [[-120,72],[-80,74],[-70,80],[-100,82],[-120,78]],
   [[-78,8],[-72,12],[-62,10],[-50,2],[-35,-5],[-38,-13],[-40,-22],[-48,-26],[-53,-34],[-58,-38],[-65,-42],[-68,-50],[-70,-55],[-74,-50],[-73,-40],[-71,-30],[-70,-18],[-76,-14],[-81,-5],[-80,0],[-77,4]],
   [[-10,36],[-9,43],[-2,44],[-5,48],[0,50],[5,53],[8,57],[5,62],[15,69],[25,71],[40,68],[60,70],[70,73],[80,73],[100,78],[110,76],[130,72],[150,71],[170,70],[180,66],[180,64],[170,60],[160,55],[155,58],[142,53],[140,47],[130,42],[128,35],[122,38],[121,31],[118,24],[110,20],[108,12],[105,9],[100,14],[98,8],[103,2],[98,16],[94,18],[90,22],[86,20],[80,15],[78,8],[73,18],[72,22],[67,25],[57,26],[56,24],[59,22],[52,16],[44,12],[42,16],[38,24],[34,28],[32,31],[35,36],[30,37],[27,40],[23,38],[22,41],[20,40],[16,38],[18,40],[12,44],[14,45],[10,44],[7,44],[3,43],[0,39],[-1,37],[-6,36]],
   [[-17,21],[-16,12],[-8,5],[5,5],[9,4],[10,-2],[13,-10],[12,-17],[15,-27],[18,-34],[22,-34],[27,-33],[33,-26],[35,-20],[40,-15],[40,-5],[43,0],[51,11],[43,12],[38,18],[32,31],[20,31],[10,34],[10,37],[-2,35],[-6,36],[-10,30]],
   [[44,-25],[47,-25],[50,-15],[48,-13],[44,-17]],
   [[114,-22],[122,-18],[130,-12],[137,-12],[142,-11],[146,-19],[153,-27],[150,-37],[145,-39],[140,-38],[135,-34],[128,-32],[115,-34],[114,-26]],
   [[95,5],[105,-6],[110,-8],[120,-9],[130,-8],[140,-3],[150,-6],[140,-9],[120,-5],[110,-2],[100,2]],
   [[130,31],[135,34],[141,38],[142,45],[140,41],[135,35]],
   [[-5,50],[1,51],[0,55],[-3,58],[-6,56]],
   [[-24,64],[-14,65],[-16,66],[-22,66]],
   [[-180,-78],[-150,-76],[-100,-73],[-70,-70],[-58,-64],[-50,-77],[-20,-73],[0,-70],[40,-68],[80,-67],[120,-66],[160,-70],[180,-75],[180,-90],[-180,-90]]
  ];
  lands.forEach(poly=>{
    const p=mk('polygon',gi);
    p.setAttribute('points',poly.map(q=>sx(q[0]).toFixed(1)+','+sy(q[1]).toFixed(1)).join(' '));
    p.setAttribute('fill','#f8c99a');
    
    
  });
  cityLon.forEach((lon,i)=>{
    const c=mk('circle',gi);
    c.setAttribute('cx',sx(lon)); c.setAttribute('cy',sy(cityLat[i])); c.setAttribute('r',(3.16*Math.sqrt(citySaved[i])).toFixed(1));
    c.setAttribute('fill','#d23a34'); c.setAttribute('fill-opacity','0.82');
    
    
  });
  frame(g,83,746,430,200,null,'l-map-border');
})();
(function(){
  const g=document.getElementById('gM');
  const sy=lin(0,3,947,745);
  const x0=633, dx=(1011-633)/(mCities.length-1);
  mValues.forEach((v,i)=>{
    const xc=x0+i*dx;
    const r=mk('rect',g);
    r.setAttribute('x',xc-6.5); r.setAttribute('y',sy(v)); r.setAttribute('width',13); r.setAttribute('height',947-sy(v));
    r.setAttribute('fill','#8fc84a'); r.setAttribute('stroke','#6a9a30'); r.setAttribute('stroke-width','0.8');
    
    
    const t=mk('text',g); t.setAttribute('x',xc); t.setAttribute('y',sy(v)-4); t.setAttribute('text-anchor','middle'); t.setAttribute('class','tk'); t.textContent=v;
    
    
    const l=mk('text',g); l.setAttribute('x',xc+4); l.setAttribute('y',962); l.setAttribute('text-anchor','end'); l.setAttribute('class','tk');
    l.setAttribute('transform','rotate(-25 '+(xc+4)+' 962)'); l.textContent=mCities[i];
    
    
  });
  frame(g,618,745,406,202,null,'m-plot-frame');
})();
</script>
</body></html>
